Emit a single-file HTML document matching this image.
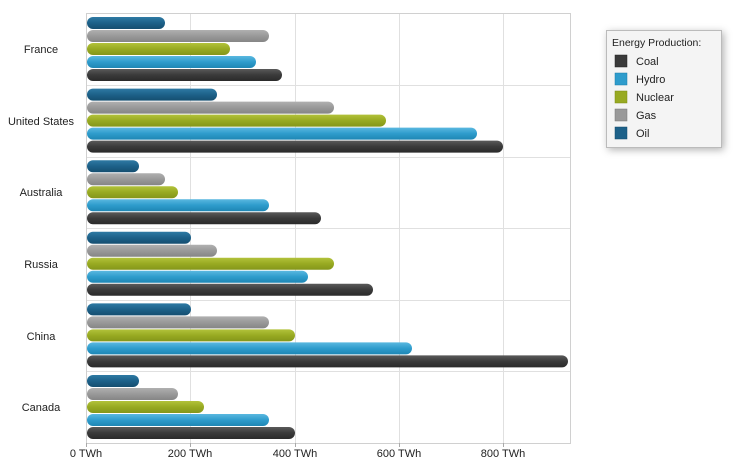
<!DOCTYPE html>
<html><head><style>body{margin:0;background:#fff}svg{display:block}text{font-family:"Liberation Sans",sans-serif;font-size:11px;fill:#222}</style></head><body>
<svg width="742" height="469" xmlns="http://www.w3.org/2000/svg">
<defs>
<linearGradient id="g0" x1="0" y1="0" x2="0" y2="1"><stop offset="0" stop-color="#5a5a5a"/><stop offset="0.5" stop-color="#3a3a3a"/><stop offset="1" stop-color="#2a2a2a"/></linearGradient>
<linearGradient id="g1" x1="0" y1="0" x2="0" y2="1"><stop offset="0" stop-color="#5ab8e0"/><stop offset="0.5" stop-color="#2e9ccc"/><stop offset="1" stop-color="#1e86b4"/></linearGradient>
<linearGradient id="g2" x1="0" y1="0" x2="0" y2="1"><stop offset="0" stop-color="#b2c23a"/><stop offset="0.5" stop-color="#98aa22"/><stop offset="1" stop-color="#84961a"/></linearGradient>
<linearGradient id="g3" x1="0" y1="0" x2="0" y2="1"><stop offset="0" stop-color="#b0b0b0"/><stop offset="0.5" stop-color="#999"/><stop offset="1" stop-color="#858585"/></linearGradient>
<linearGradient id="g4" x1="0" y1="0" x2="0" y2="1"><stop offset="0" stop-color="#2e7aa4"/><stop offset="0.5" stop-color="#1d6189"/><stop offset="1" stop-color="#154e70"/></linearGradient>
<filter id="sh" x="-20%" y="-20%" width="150%" height="150%"><feDropShadow dx="2" dy="2" stdDeviation="4" flood-opacity="0.3"/></filter>
</defs>
<g stroke="#e0e0e0" stroke-width="1">
<line x1="190.5" y1="13" x2="190.5" y2="443"/><line x1="295.5" y1="13" x2="295.5" y2="443"/><line x1="399.5" y1="13" x2="399.5" y2="443"/><line x1="503.5" y1="13" x2="503.5" y2="443"/>
<line x1="86" y1="85.5" x2="570" y2="85.5"/><line x1="86" y1="157.5" x2="570" y2="157.5"/><line x1="86" y1="228.5" x2="570" y2="228.5"/><line x1="86" y1="300.5" x2="570" y2="300.5"/><line x1="86" y1="371.5" x2="570" y2="371.5"/>
</g>
<rect x="86.5" y="13.5" width="484" height="430" fill="none" stroke="#d0d0d0"/>
<g id="bars"></g>
<g stroke="#aaa"><line x1="86.5" y1="443" x2="86.5" y2="447"/><line x1="190.5" y1="443" x2="190.5" y2="447"/><line x1="295.5" y1="443" x2="295.5" y2="447"/><line x1="399.5" y1="443" x2="399.5" y2="447"/><line x1="503.5" y1="443" x2="503.5" y2="447"/></g>
<g text-anchor="middle"><text x="86" y="457">0 TWh</text><text x="190" y="457">200 TWh</text><text x="295" y="457">400 TWh</text><text x="399" y="457">600 TWh</text><text x="503" y="457">800 TWh</text></g>
<g text-anchor="middle"><text x="41" y="53">France</text><text x="41" y="125">United States</text><text x="41" y="196">Australia</text><text x="41" y="268">Russia</text><text x="41" y="340">China</text><text x="41" y="411">Canada</text></g>
<rect x="606.5" y="30.5" width="115" height="117" fill="#f4f4f4" stroke="#bbb" filter="url(#sh)"/>
<text x="612" y="46" style="font-size:10.5px">Energy Production:</text>
<rect x="615" y="55" width="12" height="12" fill="#3a3a3a" stroke="#222" stroke-width=".5"/><text x="636" y="65">Coal</text>
<rect x="615" y="73" width="12" height="12" fill="#2e9ccc" stroke="#1a7aa8" stroke-width=".5"/><text x="636" y="83">Hydro</text>
<rect x="615" y="91" width="12" height="12" fill="#98aa22" stroke="#7a8a10" stroke-width=".5"/><text x="636" y="101">Nuclear</text>
<rect x="615" y="109" width="12" height="12" fill="#999" stroke="#777" stroke-width=".5"/><text x="636" y="119">Gas</text>
<rect x="615" y="127" width="12" height="12" fill="#1d6189" stroke="#124a6a" stroke-width=".5"/><text x="636" y="137">Oil</text>
</svg>
<script>
var d=[[150,350,275,325,375],[250,475,575,750,800],[100,150,175,350,450],[200,250,475,425,550],[200,350,400,625,925],[100,175,225,350,400]];
var gi=[4,3,2,1,0],s=0.52,h='';
for(var c=0;c<6;c++){for(var k=0;k<5;k++){var y=17+c*71.6+k*13,w=d[c][k]*s;
h+='<rect x="87" y="'+y.toFixed(1)+'" width="'+w.toFixed(1)+'" height="12" rx="6" ry="6" fill="url(#g'+gi[k]+')"/>';}}
document.getElementById('bars').innerHTML=h;
</script>
</body></html>
